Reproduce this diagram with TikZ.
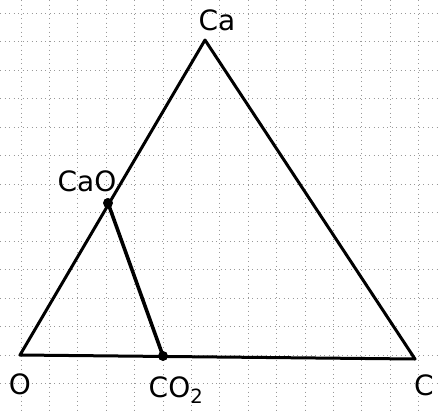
\documentclass[tikz,border=0pt]{standalone}
\usepackage{fontspec}
\setmainfont{DejaVu Sans}
\tikzset{
  gridline/.style={gray!80, line width=0.7pt, dash pattern=on 1pt off 3.5pt},
  edge/.style={black, line width=3pt, line cap=round, line join=round},
  tieline/.style={black, line width=3.6pt, line cap=round},
  dotpt/.style={circle, fill=black, inner sep=0pt, minimum size=10pt},
  lbl/.style={font=\fontsize{28}{30}\selectfont, inner sep=0pt}
}
\begin{document}
\begin{tikzpicture}[x=1pt,y=-1pt]
\useasboundingbox (0,0) rectangle (439,410);
\fill[white] (0,0) rectangle (439,410);
% grid
\foreach \i in {0,...,15} {
  \draw[gridline] ({21+28.4*\i},0) -- ({21+28.4*\i},410);
}
\foreach \j in {0,...,14} {
  \draw[gridline] (0,{13+28.5*\j}) -- (439,{13+28.5*\j});
}
% vertices
\coordinate (O) at (20,355);
\coordinate (Ca) at (205,40);
\coordinate (C) at (415,359);
\coordinate (CaO) at (108,203);
\coordinate (CO2) at (163,356);
% triangle
\draw[edge] (O) -- (Ca) -- (C) -- (O);
\draw[tieline] (CaO) -- (CO2);
\node[dotpt] (dCaO) at (CaO) {};
\node[dotpt] (dCO2) at (CO2) {};
% labels
\node[lbl] (lCa) at (217,20) {Ca};
\node[lbl] (lCaO) at (87,181) {CaO};
\node[lbl] (lO) at (20,384) {O};
\node[lbl] (lCO2) at (176,390) {CO$_{\mathrm{2}}$};
\node[lbl] (lC) at (424,385) {C};
\end{tikzpicture}
\end{document}
